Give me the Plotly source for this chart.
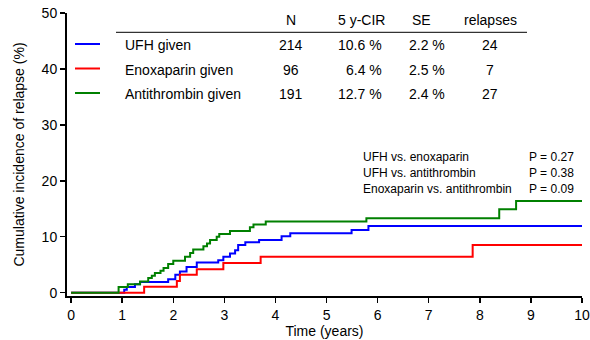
import plotly.graph_objects as go

# ---------------- data ----------------
ufh_t = [0, 1.04, 1.09, 1.25, 1.35, 1.90, 2.04, 2.13, 2.26, 2.46, 2.88, 2.98, 3.11, 3.21, 3.27,
         3.41, 3.68, 4.12, 4.29, 5.49, 5.82, 10]
ufh_v = [0, 0.5, 1.0, 1.5, 1.9, 2.4, 3.2, 3.8, 4.6, 5.4, 5.8, 6.4, 7.0, 7.6, 8.5,
         9.0, 9.4, 10.1, 10.6, 11.2, 11.9, 11.9]

enox_t = [0, 1.43, 2.07, 2.13, 2.46, 2.98, 3.71, 7.86, 10]
enox_v = [0, 1.07, 2.1, 3.2, 4.2, 5.3, 6.4, 8.5, 8.5]

at_t = [0, 0.93, 1.11, 1.35, 1.51, 1.58, 1.64, 1.75, 1.81, 1.90, 2.00, 2.23, 2.33, 2.39, 2.59,
        2.66, 2.72, 2.85, 2.90, 3.11, 3.50, 3.57, 3.81, 5.78, 8.38, 8.71, 10]
at_v = [0, 1.0, 1.5, 2.0, 2.6, 3.0, 3.5, 3.9, 4.4, 5.1, 5.7, 6.4, 7.1, 7.7, 8.3,
        8.8, 9.4, 10.0, 10.5, 11.0, 11.7, 12.2, 12.7, 13.3, 14.9, 16.4, 16.4]

groups = ["UFH given", "Enoxaparin given", "Antithrombin given"]
n_vals = ["214", "96", "191"]
cir_vals = ["10.6 %", "6.4 %", "12.7 %"]
se_vals = ["2.2 %", "2.5 %", "2.4 %"]
relapse_vals = ["24", "7", "27"]
headers = ["N", "5 y-CIR", "SE", "relapses"]

comparisons = ["UFH vs. enoxaparin", "UFH vs. antithrombin", "Enoxaparin vs. antithrombin"]
p_vals = ["P = 0.27", "P = 0.38", "P = 0.09"]

x_ticks = list(range(0, 11))
y_ticks = [0, 10, 20, 30, 40, 50]

colors = ["#0000FF", "#FF0000", "#008000"]
FONT = "Liberation Sans, Arial, Helvetica, sans-serif"

# ---------------- layout helpers (pixel -> paper) ----------------
W, H = 590, 340
L, R, T, B = 67, 582, 13, 296


def px(x):
    return (x - L) / (R - L)


def py(y):
    return (B - y) / (B - T)


fig = go.Figure()
series = [(ufh_t, ufh_v), (enox_t, enox_v), (at_t, at_v)]
for (t, v), c, name in zip(series, colors, groups):
    fig.add_trace(go.Scatter(x=t, y=v, mode="lines", line=dict(color=c, width=2, shape="hv"),
                             name=name, showlegend=False, hoverinfo="skip", cliponaxis=False))

ann = []
shapes = []


def text(x, y, s, anchor="left", size=14):
    ann.append(dict(x=px(x), y=py(y), xref="paper", yref="paper", text=s, showarrow=False,
                    xanchor=anchor, yanchor="middle", font=dict(family=FONT, size=size, color="black")))


# table header
header_pos = [(291, "center"), (361, "center"), (421, "center"), (490, "center")]
for h, (x, a) in zip(headers, header_pos):
    text(x, 20.5, h, a)
shapes.append(dict(type="line", xref="paper", yref="paper", x0=px(116), x1=px(527),
                   y0=py(32.3), y1=py(32.3), line=dict(color="black", width=1)))

row_y = [45, 69.5, 93.5]
line_y = [44, 68.5, 93]
for i in range(3):
    shapes.append(dict(type="line", xref="paper", yref="paper", x0=px(75), x1=px(100),
                       y0=py(line_y[i]), y1=py(line_y[i]), line=dict(color=colors[i], width=2)))
    text(123, row_y[i], groups[i], "left")
    text(291, row_y[i], n_vals[i], "center")
    text(384, row_y[i], cir_vals[i], "right")
    text(407, row_y[i], se_vals[i], "left")
    text(490, row_y[i], relapse_vals[i], "center")

p_y = [157, 173, 189]
for i in range(3):
    text(361, p_y[i], comparisons[i], "left", 12)
    text(527, p_y[i], p_vals[i], "left", 12)

fig.update_layout(
    width=W, height=H,
    margin=dict(l=L, r=W - R, t=T, b=H - B, pad=0, autoexpand=False),
    paper_bgcolor="white", plot_bgcolor="white",
    font=dict(family=FONT, size=14, color="black"),
    annotations=ann, shapes=shapes,
    xaxis=dict(range=[-0.08, 10], tickvals=x_ticks, ticktext=[str(v) for v in x_ticks],
               automargin=False,
               showgrid=False, zeroline=False, showline=True, linecolor="black", linewidth=2,
               ticks="outside", ticklen=5, tickwidth=1.5, tickcolor="black",
               tickfont=dict(family=FONT, size=14, color="black"),
               title=dict(text="Time (years)", standoff=3, font=dict(family=FONT, size=14))),
    yaxis=dict(range=[-0.6, 50], tickvals=y_ticks, ticktext=[str(v) for v in y_ticks],
               automargin=False,
               showgrid=False, zeroline=False, showline=True, linecolor="black", linewidth=2,
               ticks="outside", ticklen=5, tickwidth=1.5, tickcolor="black",
               tickfont=dict(family=FONT, size=14, color="black"),
               title=dict(text="Cumulative incidence of relapse (%)", standoff=14,
                          font=dict(family=FONT, size=14))),
)

fig.write_html("out.html", config={"displayModeBar": False, "staticPlot": True},
               post_script="document.body.style.margin='0';document.body.style.overflow='hidden';")
